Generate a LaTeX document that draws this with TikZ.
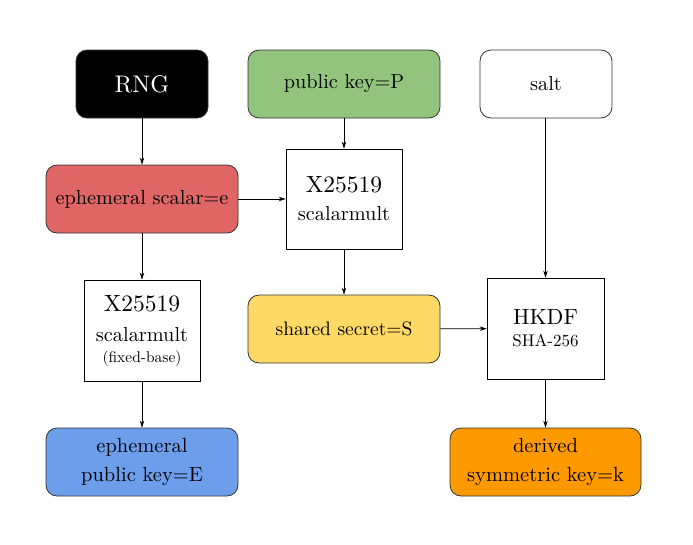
\documentclass[tikz,border=0pt]{standalone}
\usepackage{fontspec}
\setmainfont{lmroman10-regular.otf}
\usetikzlibrary{arrows.meta}
\definecolor{cgreen}{HTML}{93C47D}
\definecolor{cred}{HTML}{E06666}
\definecolor{cyellow}{HTML}{FFD966}
\definecolor{cblue}{HTML}{6D9EEB}
\definecolor{corange}{HTML}{FF9900}
\definecolor{cborder}{HTML}{333333}
\tikzset{
  rbox/.style={draw=cborder, line width=0.8pt, rounded corners=11pt, minimum width=192pt, minimum height=68pt, align=center, inner sep=0pt, font=\fontsize{20.3}{24}\selectfont},
  sbox/.style={draw=black, line width=0.8pt, minimum width=116pt, minimum height=100pt, align=center, inner sep=0pt, font=\fontsize{20.3}{28}\selectfont},
  arr/.style={draw=black, line width=0.7pt, -{Stealth[length=7pt,width=4.5pt]}},
}
\begin{document}
\begin{tikzpicture}[x=1pt,y=-1pt]
\useasboundingbox (0,0) rectangle (693,544);
\node[rbox, fill=black, text=white, minimum width=132pt, font=\fontsize{24}{28}\selectfont] (rng) at (142,84) {RNG};
\node[rbox, fill=cgreen] (pub) at (344,84) {public key=P};
\node[rbox, fill=white, minimum width=132pt] (salt) at (546,84) {salt};
\node[rbox, fill=cred] (eph) at (142,199) {ephemeral scalar=e};
\node[sbox] (xm) at (344,199) {{\fontsize{23.5}{28}\selectfont X25519}\\scalarmult};
\node[sbox, minimum height=101pt] (xf) at (142,330.5) {{\fontsize{23.5}{28}\selectfont X25519}\\[2pt]scalarmult\\[-7pt]{\fontsize{15.5}{18}\selectfont (fixed-base)}};
\node[rbox, fill=cyellow, font=\fontsize{19.5}{24}\selectfont] (ss) at (344,329) {shared secret=S};
\node[sbox, minimum width=117pt, minimum height=101pt, font=\fontsize{22}{22}\selectfont] (hkdf) at (545.5,328.5) {HKDF\\{\fontsize{17}{19}\selectfont SHA-256}};
\node[rbox, fill=cblue, font=\fontsize{20.5}{29}\selectfont] (epub) at (142,462) {ephemeral\\public key=E};
\node[rbox, fill=corange, minimum width=191pt, font=\fontsize{20.5}{29}\selectfont] (der) at (545.5,462) {derived\\symmetric key=k};
\draw[arr] (rng) -- (eph);
\draw[arr] (pub) -- (xm);
\draw[arr] (eph) -- (xm);
\draw[arr] (eph) -- (xf);
\draw[arr] (xf) -- (epub);
\draw[arr] (xm) -- (ss);
\draw[arr] (salt.south -| hkdf.north) -- (hkdf.north);
\draw[arr] (ss) -- (hkdf);
\draw[arr] (hkdf) -- (der);
\end{tikzpicture}
\end{document}
